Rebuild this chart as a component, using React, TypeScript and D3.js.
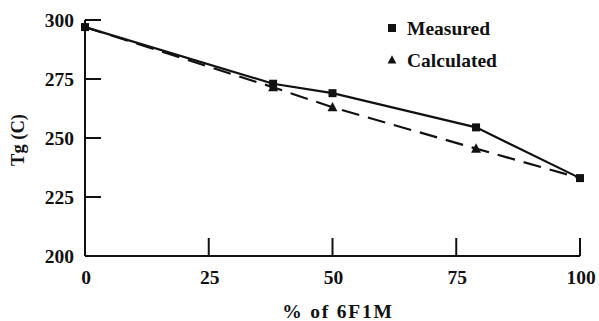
import React from 'react';
import { scaleLinear, line } from 'd3';

const pctValues = [0, 38, 50, 79, 100];
const measured = [297, 273, 269, 254.5, 233];
const calculated = [297, 271.5, 263, 245.5, 233];
const xTicks = [0, 25, 50, 75, 100];
const yTicks = [200, 225, 250, 275, 300];

const FONT = '"Liberation Serif", "Times New Roman", serif';

export default function App() {
  const width = 599,
    height = 321;
  const left = 85,
    right = 580,
    top = 20,
    bottom = 256;

  const x = scaleLinear().domain([0, 100]).range([left, right]);
  const y = scaleLinear().domain([200, 300]).range([bottom, top]);

  const pathOf = (vals: number[]) =>
    line<number>()
      .x((d, i) => x(pctValues[i]))
      .y((d) => y(d))(vals) || '';

  const tickLen = 16;
  const sq = 8;
  const tri = (cx: number, cy: number, s: number) =>
    `M${cx},${cy - s * 0.6} L${cx + s * 0.55},${cy + s * 0.45} L${cx - s * 0.55},${cy + s * 0.45} Z`;

  return (
    <svg
      width={width}
      height={height}
      style={{ position: 'absolute', left: 0, top: 0, background: '#fff' }}
    >
      <g stroke="#111" strokeWidth={2} fill="none">
        {/* axes */}
        <line x1={left} x2={left} y1={top} y2={bottom} />
        <line x1={left} x2={right} y1={bottom} y2={bottom} />
        {yTicks.slice(1).map((t) => (
          <line key={'yt' + t} x1={left} x2={left + tickLen} y1={y(t)} y2={y(t)} />
        ))}
        {xTicks.slice(1).map((t) => (
          <line key={'xt' + t} x1={x(t)} x2={x(t)} y1={bottom} y2={bottom - tickLen - 2} />
        ))}
      </g>

      {/* series lines */}
      <path d={pathOf(calculated)} stroke="#111" strokeWidth={2.2} fill="none" strokeDasharray="18,9" />
      <path d={pathOf(measured)} stroke="#111" strokeWidth={2.2} fill="none" />

      {/* markers */}
      {calculated.slice(1, -1).map((v, i) => (
        <path key={'c' + i} d={tri(x(pctValues[i + 1]), y(v), 9)} fill="#111" />
      ))}
      {measured.map((v, i) => (
        <rect key={'m' + i} x={x(pctValues[i]) - sq / 2} y={y(v) - sq / 2} width={sq} height={sq} fill="#111" />
      ))}

      {/* tick labels */}
      <g fontFamily={FONT} fontWeight="bold" fontSize={19.5} fill="#111">
        {yTicks.map((t) => (
          <text key={'yl' + t} x={left - 11} y={y(t)} textAnchor="end" dominantBaseline="central">
            {t}
          </text>
        ))}
        {xTicks.map((t) => (
          <text key={'xl' + t} x={x(t) + 1} y={bottom + 21} textAnchor="middle" dominantBaseline="central">
            {t}
          </text>
        ))}
        <text x={338} y={311} textAnchor="middle" dominantBaseline="central" letterSpacing={1.8}>
          % of 6F1M
        </text>
        <text
          transform={`translate(18,${(top + bottom) / 2 + 2}) rotate(-90)`}
          textAnchor="middle"
          dominantBaseline="central"
          fontSize={18.5}
        >
          Tg (C)
        </text>

        {/* legend */}
        <rect x={392 - 4} y={28 - 4} width={8} height={8} />
        <text x={407} y={28} dominantBaseline="central">Measured</text>
        <path d={tri(392, 60, 8)} />
        <text x={407} y={60} dominantBaseline="central">Calculated</text>
      </g>
    </svg>
  );
}
